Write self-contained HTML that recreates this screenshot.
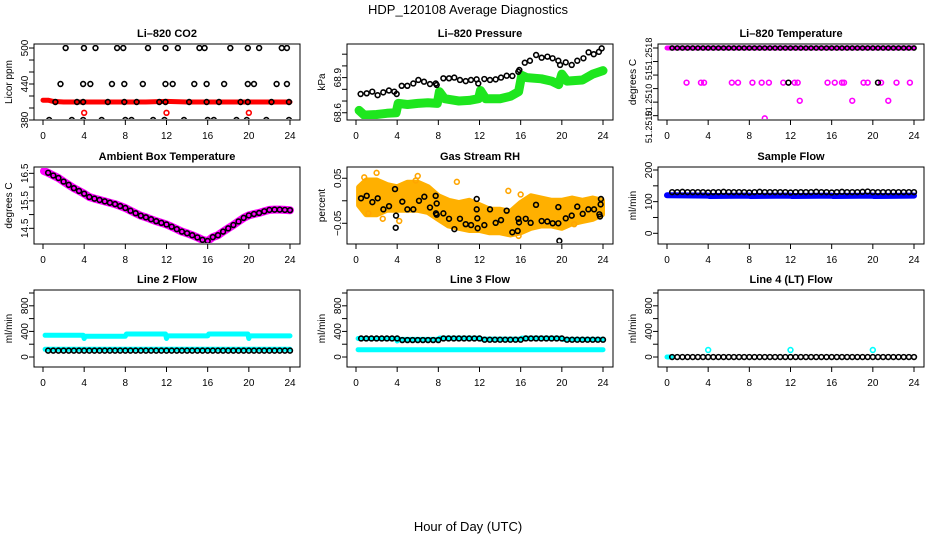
<!DOCTYPE html>
<html><head><meta charset="utf-8"><style>
body{margin:0;background:#fff;}
svg{display:block;font-family:"Liberation Sans",Arial,sans-serif;}
</style></head><body>
<svg id="chart" width="936" height="540" viewBox="0 0 936 540" xmlns="http://www.w3.org/2000/svg">
<text x="468" y="14" text-anchor="middle" font-size="13">HDP_120108  Average Diagnostics</text>
<text x="468" y="531" text-anchor="middle" font-size="13">Hour of Day (UTC)</text>
</svg>
<script>
// ---------- data ----------
const xTicks = [0,4,8,12,16,20,24];
const halfHours = [0.5,1,1.5,2,2.5,3,3.5,4,4.5,5,5.5,6,6.5,7,7.5,8,8.5,9,9.5,10,10.5,11,11.5,12,12.5,13,13.5,14,14.5,15,15.5,16,16.5,17,17.5,18,18.5,19,19.5,20,20.5,21,21.5,22,22.5,23,23.5,24];

// CO2
const co2BlackT = [2.2,3.98,5.1,7.2,7.8,10.2,11.9,13.1,15.2,15.7,18.2,19.9,21.0,23.2,23.7, 1.7,3.9,4.6,6.7,7.9,9.7,11.9,12.6,14.7,15.9,17.6,19.9,20.5,22.7,23.7, 1.2,3.3,3.9,6.3,7.9,9.1,11.3,11.9,14.2,15.9,17.1,19.2,19.9,22.2,23.9, 0.6,2.8,3.9,5.7,8.0,8.6,10.7,11.8,13.7,16.0,16.6,18.8,19.8,21.7,23.9];
const co2BlackV = [500,500,500,500,500,500,500,500,500,500,500,500,500,500,500, 440,440,440,440,440,440,440,440,440,440,440,440,440,440,440, 410,410,410,410,410,410,410,410,410,410,410,410,410,410,410, 380,380,380,380,380,380,380,380,380,380,380,380,380,380,380];
const co2RedT = [0,0.5,1,2,4,6,8,10,12,14,16,18,20,22,24];
const co2RedV = [413,413,411,410,410,410,410,410,411,410,410,410,410,410,410];
const co2RedOutT = [4,12,20];
const co2RedOutV = [392,392,392];

// Pressure
const presBlackT = [0.45,1.04,1.58,2.1,2.65,3.2,3.72,3.95,4.44,4.99,5.57,6.06,6.61,7.19,7.75,7.84,8.49,9.04,9.55,10.1,10.66,11.17,11.72,11.88,12.47,13.02,13.57,14.09,14.64,15.19,15.77,15.87,16.4,16.9,17.5,18.04,18.6,19.1,19.66,19.83,20.38,20.96,21.5,22.1,22.6,23.1,23.6,23.87];
const presBlackV = [68.76,68.766,68.78,68.75,68.774,68.79,68.78,68.76,68.83,68.83,68.85,68.88,68.865,68.845,68.85,68.837,68.894,68.894,68.9,68.88,68.87,68.88,68.885,68.85,68.888,68.88,68.885,68.9,68.916,68.914,68.95,68.965,69.027,69.044,69.093,69.07,69.079,69.065,69.044,69.008,69.03,69.008,69.044,69.065,69.116,69.1,69.12,69.15];
const presGreenT = [0.3,0.8,2,3,3.9,4.1,5,6,7,7.9,8.1,8.6,10,11,11.9,12.1,12.6,14,15,15.8,16.1,16.6,18,19,19.7,20,20.5,22,23,24];
const presGreenV = [68.62,68.58,68.585,68.595,68.6,68.68,68.67,68.68,68.685,68.68,68.78,68.72,68.7,68.705,68.72,68.79,68.72,68.72,68.74,68.78,68.92,68.9,68.89,68.87,68.84,68.93,68.87,68.88,68.93,68.96];

// Li-820 temperature (units: 1e-4 degC offsets)
const tempBlackV = [8,8,8,8,8,8,8,8,8,8,8,8,8,8,8,8,8,8,8,8,8,8,8,8,8,8,8,8,8,8,8,8,8,8,8,8,8,8,8,8,8,8,8,8,8,8,8,8];
const tempMagT = [1.9,3.3,3.6,6.3,6.9,8.3,9.2,9.9,11.3,12.4,12.7,15.6,16.3,17.0,17.2,19.1,19.5,20.8,22.3,23.6, 12.9,18.0,21.5, 9.5];
const tempMagV = [5.44,5.44,5.44,5.44,5.44,5.44,5.44,5.44,5.44,5.44,5.44,5.44,5.44,5.44,5.44,5.44,5.44,5.44,5.44,5.44, 4.1,4.1,4.1, 2.8];
const tempMidBlackT = [11.8,20.5];
const tempMidBlackV = [5.44,5.44];
const tempTickLabelV = [7.56,6.0,4.16,2.17];
const tempTickLabels = ["51.2518","51","51.2510","51.2510"];

// Ambient box temperature
const ambV = [16.52,16.42,16.33,16.2,16.08,15.96,15.86,15.76,15.64,15.58,15.53,15.48,15.43,15.38,15.31,15.24,15.14,15.05,14.96,14.9,14.83,14.76,14.7,14.64,14.56,14.47,14.38,14.32,14.25,14.17,14.08,14.04,14.18,14.25,14.38,14.5,14.62,14.75,14.88,14.97,15.02,15.06,15.12,15.17,15.18,15.18,15.17,15.16];

// Gas stream RH
const rhBlackT = [0.49,1.04,1.59,2.11,2.66,3.21,3.79,3.89,3.86,4.5,4.99,5.57,6.12,6.64,7.19,7.74,7.77,7.84,7.84,8.49,9.04,9.56,10.1,10.66,11.18,11.73,11.73,11.79,11.82,12.47,13.02,13.57,14.09,14.64,15.19,15.71,15.77,15.84,16.49,16.97,17.49,18.04,18.59,19.11,19.66,19.66,19.76,20.38,20.96,21.5,22.03,22.58,23.13,23.65,23.71,23.77,23.8];
const rhBlackV = [0.0055,0.011,-0.003,0.0055,-0.019,-0.012,0.026,-0.033,-0.06,-0.002,-0.019,-0.019,0.0,0.009,-0.015,0.011,-0.028,-0.006,-0.031,-0.028,-0.04,-0.063,-0.04,-0.052,-0.054,0.004,-0.019,-0.039,-0.061,-0.054,-0.019,-0.049,-0.043,-0.022,-0.07,-0.067,-0.04,-0.048,-0.04,-0.049,-0.009,-0.045,-0.046,-0.05,-0.05,-0.014,-0.089,-0.039,-0.033,-0.013,-0.029,-0.019,-0.019,-0.03,-0.035,-0.008,0.004];
const rhBandT = [0.3,1,2,3,4,5,6,7,8,9,10,11,12,13,14,15,16,17,18,19,20,21,22,23,23.9];
const rhBandHi = [0.03,0.045,0.045,0.035,0.03,0.04,0.04,0.03,0.01,0.0,-0.005,0.0,-0.01,-0.02,-0.02,-0.025,-0.005,0.01,0.005,0.0,0.0,0.005,0.0,0.005,0.0];
const rhBandLo = [-0.01,-0.03,-0.03,-0.02,-0.02,-0.02,-0.02,-0.025,-0.04,-0.055,-0.06,-0.065,-0.065,-0.07,-0.07,-0.075,-0.07,-0.06,-0.055,-0.055,-0.06,-0.05,-0.045,-0.04,-0.03];
const rhOutT = [2,6,9.8,14.8,16,1.2,4.2,15.8,2.6,5.8,0.8,21.2];
const rhOutV = [0.062,0.055,0.042,0.022,0.014,-0.028,-0.045,-0.078,-0.04,0.045,0.052,-0.052];

// Sample flow
const sampBlackV = [130,130,131,130,130,130,130,129,130,130,131,130,130,130,130,129,130,131,130,130,130,130,130,129,130,130,130,130,131,130,130,129,130,131,130,130,130,131,132,130,130,130,130,130,130,130,130,130];
const sampBlueT = [0,4,4.1,8,8.1,12,12.1,16,16.1,20,20.1,24];
const sampBlueV = [120,119,118,119,118,119,118,119,118,119,118,119];

// Line 2 flow
const l2BlackV = [100,100,100,100,100,100,100,100,100,100,100,100,100,100,100,100,100,100,100,100,100,100,100,100,100,100,100,100,100,100,100,100,100,100,100,100,100,100,100,100,100,100,100,100,100,100,100,100];
const l2CyanT = [0.2,3.9,4.0,4.1,8.0,8.1,11.9,12.0,12.1,16.0,16.1,19.9,20.0,20.1,24];
const l2CyanV = [340,340,290,325,325,360,360,290,330,330,360,360,290,330,330];
const l2LowT = [0.2,24];
const l2LowV = [120,120];

// Line 3 flow
const l3BlackV = [290,290,290,290,290,290,290,290,265,265,265,265,265,265,265,265,290,290,290,290,290,290,290,290,270,270,270,270,270,270,270,270,290,290,290,290,290,290,290,290,270,270,270,270,270,270,270,270];
const l3CyanT = [0.2,3.9,4.0,4.2,8.0,8.1,12,12.1,16,16.1,20,20.1,24];
const l3CyanV = [290,290,250,275,275,295,295,280,280,295,295,275,275];
const l3LowT = [0.2,24];
const l3LowV = [115,115];

// Line 4 flow
const l4BlackV = [0,0,0,0,0,0,0,0,0,0,0,0,0,0,0,0,0,0,0,0,0,0,0,0,0,0,0,0,0,0,0,0,0,0,0,0,0,0,0,0,0,0,0,0,0,0,0,0];
const l4CyanT = [4,12,20];
const l4CyanV = [110,110,110];
const l4CyanLowT = [0,0.4];
const l4CyanLowV = [0,0];

// ---------- drawing ----------
const NS = "http://www.w3.org/2000/svg";
const svg = document.getElementById('chart');
const colL = [34,347,658];
const rowT = [44,167,290];
const rowB = [120,244,367];

function mk(tag, attrs, parent){
  const e = document.createElementNS(NS, tag);
  for (const k in attrs) e.setAttribute(k, attrs[k]);
  (parent||svg).appendChild(e);
  return e;
}

function panel(name, col, row, title, ylab, yMin, yMax, yTicks, yLabV, yLabs, labSize){
  const L = colL[col], R = L + 266, T = rowT[row], B = rowB[row];
  const g = mk('g', {});
  
  
  const xs = t => L + 9 + t * 247 / 24;
  const ys = v => B - (v - yMin) / (yMax - yMin) * (B - T);
  const box = mk('rect', {x:L, y:T, width:R-L, height:B-T, fill:'none', stroke:'#000', 'stroke-width':1}, g);
  
  
  const tt = mk('text', {x:(L+R)/2, y:T-7, 'text-anchor':'middle', 'font-size':11, 'font-weight':'bold'}, g);
  tt.textContent = title;
  
  
  const xa = mk('g', {}, g);
  
  
  mk('line', {x1:xs(xTicks[0]), x2:xs(xTicks[xTicks.length-1]), y1:B, y2:B, stroke:'#000'}, xa);
  xTicks.forEach(t => {
    mk('line', {x1:xs(t), x2:xs(t), y1:B, y2:B+5, stroke:'#000'}, xa);
    const tx = mk('text', {x:xs(t), y:B+19, 'text-anchor':'middle', 'font-size':10}, xa);
    tx.textContent = t;
  });
  const ya = mk('g', {}, g);
  
  
  mk('line', {x1:L, x2:L, y1:ys(yTicks[0]), y2:ys(yTicks[yTicks.length-1]), stroke:'#000'}, ya);
  yTicks.forEach(v => mk('line', {x1:L-5, x2:L, y1:ys(v), y2:ys(v), stroke:'#000'}, ya));
  yLabV.forEach((v, i) => {
    const tx = mk('text', {transform:`translate(${L-6},${ys(v)}) rotate(-90)`, 'text-anchor':'middle', 'font-size':labSize||10}, ya);
    tx.textContent = yLabs[i];
  });
  const yt = mk('text', {transform:`translate(${L-22},${(T+B)/2}) rotate(-90)`, 'text-anchor':'middle', 'font-size':10}, g);
  yt.textContent = ylab;
  
  
  const clip = 'clip-' + name;
  const cp = mk('clipPath', {id:clip}, g);
  mk('rect', {x:L+1, y:T+1, width:R-L-2, height:B-T-2}, cp);
  const plot = mk('g', {'clip-path':`url(#${clip})`}, g);
  return {xs, ys, plot};
}

function pts(P, T, V, color, sname, r){
  const g = mk('g', {}, P.plot);
  
  
  T.forEach((t, i) => {
    mk('circle', {cx:P.xs(t), cy:P.ys(V[i]), r:r||2.4, fill:'none', stroke:color, 'stroke-width':1.6}, g);
  });
}
function band(P, T, V, color, w, sname){
  const d = T.map((t, i) => (i ? 'L' : 'M') + P.xs(t).toFixed(1) + ',' + P.ys(V[i]).toFixed(1)).join(' ');
  const p = mk('path', {d, fill:'none', stroke:color, 'stroke-width':w, 'stroke-linecap':'round', 'stroke-linejoin':'round'}, P.plot);
  
  
}
function area(P, T, Lo, Hi, color, sname){
  let d = T.map((t, i) => (i ? 'L' : 'M') + P.xs(t).toFixed(1) + ',' + P.ys(Hi[i]).toFixed(1)).join(' ');
  for (let i = T.length - 1; i >= 0; i--) d += ' L' + P.xs(T[i]).toFixed(1) + ',' + P.ys(Lo[i]).toFixed(1);
  const p = mk('path', {d: d + ' Z', fill:color, stroke:color, 'stroke-width':6, 'stroke-linejoin':'round'}, P.plot);
  
  
}

let P = panel('co2', 0, 0, 'Li\u2013820 CO2', 'Licor ppm', 380, 506.7, [380,400,420,440,460,480,500], [380,440,500], ['380','440','500']);
band(P, co2RedT, co2RedV, '#ff0000', 5, 'co2-red-series');
pts(P, co2RedOutT, co2RedOutV, '#ff0000', 'co2-red-outliers');
pts(P, co2BlackT, co2BlackV, '#000', 'co2-black-series');

P = panel('pressure', 1, 0, 'Li\u2013820 Pressure', 'kPa', 68.538, 69.187, [68.6,68.7,68.8,68.9,69.0,69.1], [68.6,68.9], ['68.6','68.9']);
band(P, presGreenT, presGreenV, '#1ee61e', 9, 'pressure-green-series');
pts(P, presBlackT, presBlackV, '#000', 'pressure-black-series');

P = panel('li820-temp', 2, 0, 'Li\u2013820 Temperature', 'degrees C', 2.68, 8.295, [8,7,6,5,4,3], tempTickLabelV, tempTickLabels, 9);
band(P, [0, 24], [8, 8], '#ff00ff', 5, 'temp-magenta-band');
pts(P, tempMagT, tempMagV, '#ff00ff', 'temp-magenta-series');
pts(P, halfHours, tempBlackV, '#000', 'temp-black-series', 2.1);
pts(P, tempMidBlackT, tempMidBlackV, '#000', 'temp-black-mid');

P = panel('ambient-temp', 0, 1, 'Ambient Box Temperature', 'degrees C', 13.93, 16.73, [14.5,15,15.5,16,16.5], [14.5,15.5,16.5], ['14.5','15.5','16.5']);
band(P, [0.1].concat(halfHours), [16.58].concat(ambV), '#ff00ff', 8, 'ambient-magenta-series');
pts(P, halfHours, ambV, '#000', 'ambient-black-series');

P = panel('gas-rh', 1, 1, 'Gas Stream RH', 'percent', -0.096, 0.075, [-0.05,0,0.05], [-0.05,0.05], ['\u22120.05','0.05']);
area(P, rhBandT, rhBandLo, rhBandHi, '#ffb000', 'rh-orange-band');
pts(P, rhOutT, rhOutV, '#ffa500', 'rh-orange-outliers');
pts(P, rhBlackT, rhBlackV, '#000', 'rh-black-series');

P = panel('sample-flow', 2, 1, 'Sample Flow', 'ml/min', -33.8, 209.5, [0,50,100,150,200], [0,100,200], ['0','100','200']);
band(P, sampBlueT, sampBlueV, '#0000ff', 6, 'sample-blue-series');
pts(P, halfHours, sampBlackV, '#000', 'sample-black-series');

P = panel('line2-flow', 0, 2, 'Line 2 Flow', 'ml/min', -156, 1047, [0,200,400,600,800,1000], [0,400,800], ['0','400','800']);
band(P, l2CyanT, l2CyanV, '#00ffff', 5, 'line2-cyan-upper');
band(P, l2LowT, l2LowV, '#00ffff', 5, 'line2-cyan-lower');
pts(P, halfHours, l2BlackV, '#000', 'line2-black-series');

P = panel('line3-flow', 1, 2, 'Line 3 Flow', 'ml/min', -156, 1047, [0,200,400,600,800,1000], [0,400,800], ['0','400','800']);
band(P, l3CyanT, l3CyanV, '#00ffff', 5, 'line3-cyan-upper');
band(P, l3LowT, l3LowV, '#00ffff', 5, 'line3-cyan-lower');
pts(P, halfHours, l3BlackV, '#000', 'line3-black-series');

P = panel('line4-flow', 2, 2, 'Line 4 (LT) Flow', 'ml/min', -156, 1047, [0,200,400,600,800,1000], [0,400,800], ['0','400','800']);
band(P, l4CyanLowT, l4CyanLowV, '#00ffff', 5, 'line4-cyan-low');
pts(P, l4CyanT, l4CyanV, '#00ffff', 'line4-cyan-series');
pts(P, halfHours, l4BlackV, '#000', 'line4-black-series');
</script>
</body></html>
